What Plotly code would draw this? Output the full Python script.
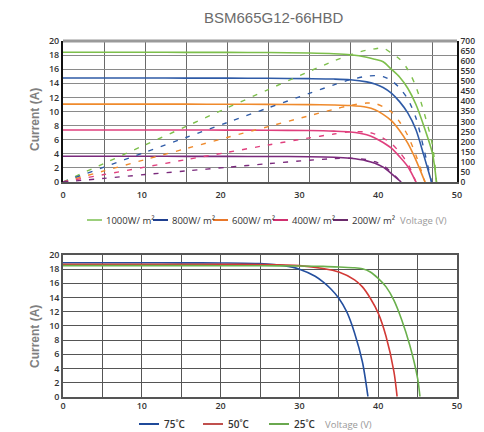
import plotly.graph_objects as go

# ---------------- DATA ----------------
# Top chart: I-V (solid, left axis A) and P-V (dashed, right axis W) at various irradiances
irr_names = ["1000W/ m²", "800W/ m²", "600W/ m²", "400W/ m²", "200W/ m²"]
irr_colors = ["#7dbf4b", "#2f5ba7", "#ef8a2c", "#e0407e", "#7a2a7c"]
irr_legend_colors = ["#9ccf7c", "#1f3f8f", "#e8772a", "#d0306f", "#6a2a6a"]

v_1000 = [0, 5, 10, 15, 20, 25, 30, 33, 35, 37, 38, 39, 40, 41, 42, 43, 44, 45, 45.5]
i_1000 = [18.4, 18.4, 18.4, 18.39, 18.38, 18.36, 18.3, 18.2, 18.05, 17.7, 17.4, 17.05, 16.0, 14.9, 13.3, 11.0, 7.8, 4.1, 0]
p_1000 = [0, 92, 184, 276, 368, 459, 549, 601, 632, 655, 661, 665, 640, 611, 559, 473, 343, 185, 0]

v_800 = [0, 5, 10, 15, 20, 25, 30, 33, 35, 37, 38, 39, 40, 41, 42, 43, 44, 44.9]
i_800 = [14.75, 14.75, 14.75, 14.74, 14.73, 14.71, 14.66, 14.6, 14.5, 14.2, 13.9, 13.4, 12.6, 11.4, 9.8, 7.4, 3.6, 0]
p_800 = [0, 74, 148, 221, 295, 368, 440, 482, 508, 525, 528, 523, 504, 467, 412, 318, 158, 0]

v_600 = [0, 5, 10, 15, 20, 25, 30, 33, 35, 37, 38, 39, 40, 41, 42, 43, 44.1]
i_600 = [11.05, 11.05, 11.05, 11.04, 11.03, 11.01, 10.97, 10.93, 10.85, 10.6, 10.25, 9.6, 8.7, 7.3, 5.5, 3.1, 0]
p_600 = [0, 55, 111, 166, 221, 275, 329, 361, 380, 392, 390, 374, 348, 299, 231, 133, 0]

v_400 = [0, 5, 10, 15, 20, 25, 30, 33, 35, 37, 38, 39, 40, 41, 42, 43]
i_400 = [7.38, 7.38, 7.38, 7.37, 7.36, 7.34, 7.3, 7.22, 7.1, 6.7, 6.25, 5.6, 4.8, 3.6, 2.2, 0]
p_400 = [0, 37, 74, 111, 147, 184, 219, 238, 249, 248, 238, 218, 192, 148, 92, 0]

v_200 = [0, 5, 10, 15, 20, 25, 30, 33, 35, 37, 38, 39, 40, 41.2]
i_200 = [3.65, 3.65, 3.65, 3.64, 3.63, 3.62, 3.59, 3.52, 3.36, 3.0, 2.65, 2.1, 1.2, 0]
p_200 = [0, 18, 37, 55, 73, 91, 108, 116, 118, 111, 101, 82, 48, 0]

irr_v = [v_1000, v_800, v_600, v_400, v_200]
irr_i = [i_1000, i_800, i_600, i_400, i_200]
irr_p = [p_1000, p_800, p_600, p_400, p_200]

# Bottom chart: I-V at various cell temperatures
temp_names = ["75˚C", "50˚C", "25˚C"]
temp_colors = ["#244f9e", "#d23a36", "#6ab04c"]
temp_legend_colors = ["#1f4a9a", "#c0504d", "#6aa84f"]

v_75 = [0, 5, 10, 15, 20, 25, 28, 30, 32, 33, 34, 35, 36, 37, 38, 38.7]
i_75 = [18.9, 18.9, 18.9, 18.89, 18.87, 18.78, 18.5, 18.0, 17.0, 16.2, 15.2, 13.9, 12.0, 9.0, 4.9, 0]
v_50 = [0, 5, 10, 15, 20, 25, 30, 33, 35, 37, 38, 39, 40, 41, 42, 42.4]
i_50 = [18.7, 18.7, 18.7, 18.69, 18.68, 18.65, 18.5, 18.1, 17.6, 16.5, 15.5, 13.9, 11.8, 8.5, 3.5, 0]
v_25 = [0, 5, 10, 15, 20, 25, 30, 33, 35, 37, 38, 39, 40, 41, 42, 43, 44, 45, 45.3]
i_25 = [18.5, 18.5, 18.5, 18.5, 18.49, 18.48, 18.45, 18.4, 18.3, 18.2, 18.05, 17.6, 16.7, 15.5, 13.6, 10.8, 7.3, 2.6, 0]
temp_v = [v_75, v_50, v_25]
temp_i = [i_75, i_50, i_25]

title_text = "BSM665G12-66HBD"
y_title = "Current (A)"
x_title = "Voltage (V)"
x_labels = [0, 10, 20, 30, 40, 50]

# ---------------- FIGURE ----------------
W, H = 484, 432
def px(x):
    return x / W
def py(y):
    return 1 - y / H

fig = go.Figure()

for name, col, v, i, p in zip(irr_names, irr_colors, irr_v, irr_i, irr_p):
    fig.add_trace(go.Scatter(x=v, y=i, mode="lines", name=name, xaxis="x", yaxis="y",
                             line=dict(color=col, width=1.6, shape="spline", smoothing=0.8),
                             showlegend=False, hoverinfo="skip"))
    fig.add_trace(go.Scatter(x=v, y=p, mode="lines", name=name + " P", xaxis="x", yaxis="y2",
                             line=dict(color=col, width=1.4, dash="5px,8px", shape="spline", smoothing=0.8),
                             showlegend=False, hoverinfo="skip"))

# empty trace so the labelled voltage axis of the top chart is drawn
fig.add_trace(go.Scatter(x=[], y=[], xaxis="x3", yaxis="y", showlegend=False, hoverinfo="skip"))

for name, col, v, i in zip(temp_names, temp_colors, temp_v, temp_i):
    fig.add_trace(go.Scatter(x=v, y=i, mode="lines", name=name, xaxis="x2", yaxis="y3",
                             line=dict(color=col, width=1.6, shape="spline", smoothing=0.8),
                             showlegend=False, hoverinfo="skip"))

tickfont = dict(family="Open Sans", size=9, color="#333333", weight=600)
rightfont = dict(family="Open Sans", size=8.5, color="#333333", weight=600)
xdom = [px(63), px(457)]

fig.update_layout(
    width=W, height=H,
    margin=dict(l=0, r=0, t=0, b=0, autoexpand=False),
    paper_bgcolor="white", plot_bgcolor="white",
    showlegend=False,
    xaxis=dict(domain=xdom, anchor="y", range=[0, 48], tick0=0, dtick=5, automargin=False,
               showticklabels=False, showgrid=True, gridcolor="#6a6a6a", gridwidth=1,
               showline=True, linecolor="#555555", linewidth=1.5, zeroline=False, ticks=""),
    xaxis3=dict(domain=xdom, anchor="y", overlaying="x", side="bottom", range=[0, 50],
                tickvals=x_labels, showgrid=False, zeroline=False, showline=False, automargin=False,
                tickfont=tickfont, ticks="", ticklabelstandoff=6),
    yaxis=dict(domain=[py(182), py(41)], anchor="x", range=[0, 20], dtick=2, automargin=False,
               showgrid=True, gridcolor="#8a8a8a", gridwidth=1, zeroline=False,
               showline=True, linecolor="#111111", linewidth=2, tickfont=tickfont, ticks=""),
    yaxis2=dict(overlaying="y", anchor="x", side="right", range=[0, 700], dtick=50, automargin=False,
                showgrid=False, zeroline=False, showline=True, linecolor="#111111",
                linewidth=1.5, tickfont=rightfont, ticks=""),
    xaxis2=dict(domain=xdom, anchor="y3", range=[0, 50], dtick=10, tick0=0, automargin=False,
                showgrid=True, gridcolor="#555555", gridwidth=1.3,
                minor=dict(dtick=5, tick0=0, showgrid=True, gridcolor="#555555", gridwidth=1.3),
                showline=True, linecolor="#555555", linewidth=1.5, mirror=True,
                zeroline=False, tickfont=tickfont, ticks=""),
    yaxis3=dict(domain=[py(396.7), py(255)], anchor="x2", range=[0, 20], dtick=2, automargin=False,
                showgrid=True, gridcolor="#555555", gridwidth=1.3, zeroline=False,
                showline=True, linecolor="#555555", linewidth=1.5, mirror=True,
                tickfont=tickfont, ticks=""),
)

annotations = [
    dict(text=title_text, x=px(273), y=py(18), xref="paper", yref="paper", showarrow=False,
         xanchor="center", yanchor="middle",
         font=dict(family="Liberation Sans", size=15, color="#6b6b6b")),
    dict(text=y_title, x=px(35), y=py(120), xref="paper", yref="paper", showarrow=False,
         xanchor="center", yanchor="middle",
         textangle=-90, font=dict(family="Liberation Sans", size=12, color="#808080", weight="bold")),
    dict(text=y_title, x=px(35), y=py(337), xref="paper", yref="paper", showarrow=False,
         xanchor="center", yanchor="middle",
         textangle=-90, font=dict(family="Liberation Sans", size=12, color="#808080", weight="bold")),
]
# thick grey top border of the upper chart
shapes = [dict(type="line", xref="x domain", yref="y domain", x0=0, x1=1, y0=1, y1=1,
               line=dict(color="#9a9a9a", width=3))]

# manual legend, top
leg_top_x = [87, 153, 213, 273, 333]
leg_top_y = 220
for xs, name, col in zip(leg_top_x, irr_names, irr_legend_colors):
    shapes.append(dict(type="line", xref="paper", yref="paper", x0=px(xs), x1=px(xs + 15),
                       y0=py(leg_top_y), y1=py(leg_top_y), line=dict(color=col, width=2)))
    annotations.append(dict(text=name, x=px(xs + 17), y=py(leg_top_y), xref="paper", yref="paper",
                            xanchor="left", yanchor="middle", showarrow=False,
                            font=dict(family="Open Sans", size=9.5, color="#333333")))
annotations.append(dict(text=x_title, x=px(398), y=py(leg_top_y), xref="paper", yref="paper",
                        xanchor="left", yanchor="middle", showarrow=False,
                        font=dict(family="Open Sans", size=9.5, color="#999999")))

# manual legend, bottom
leg_bot_x = [139, 203, 269]
leg_bot_y = 424
for xs, name, col in zip(leg_bot_x, temp_names, temp_legend_colors):
    shapes.append(dict(type="line", xref="paper", yref="paper", x0=px(xs), x1=px(xs + 20),
                       y0=py(leg_bot_y), y1=py(leg_bot_y), line=dict(color=col, width=2)))
    annotations.append(dict(text=name, x=px(xs + 23), y=py(leg_bot_y), xref="paper", yref="paper",
                            xanchor="left", yanchor="middle", showarrow=False,
                            font=dict(family="Open Sans", size=10, color="#333333", weight=600)))
annotations.append(dict(text=x_title, x=px(323), y=py(leg_bot_y), xref="paper", yref="paper",
                        xanchor="left", yanchor="middle", showarrow=False,
                        font=dict(family="Open Sans", size=9.5, color="#999999")))

fig.update_layout(annotations=annotations, shapes=shapes)
fig.write_html("out.html")
